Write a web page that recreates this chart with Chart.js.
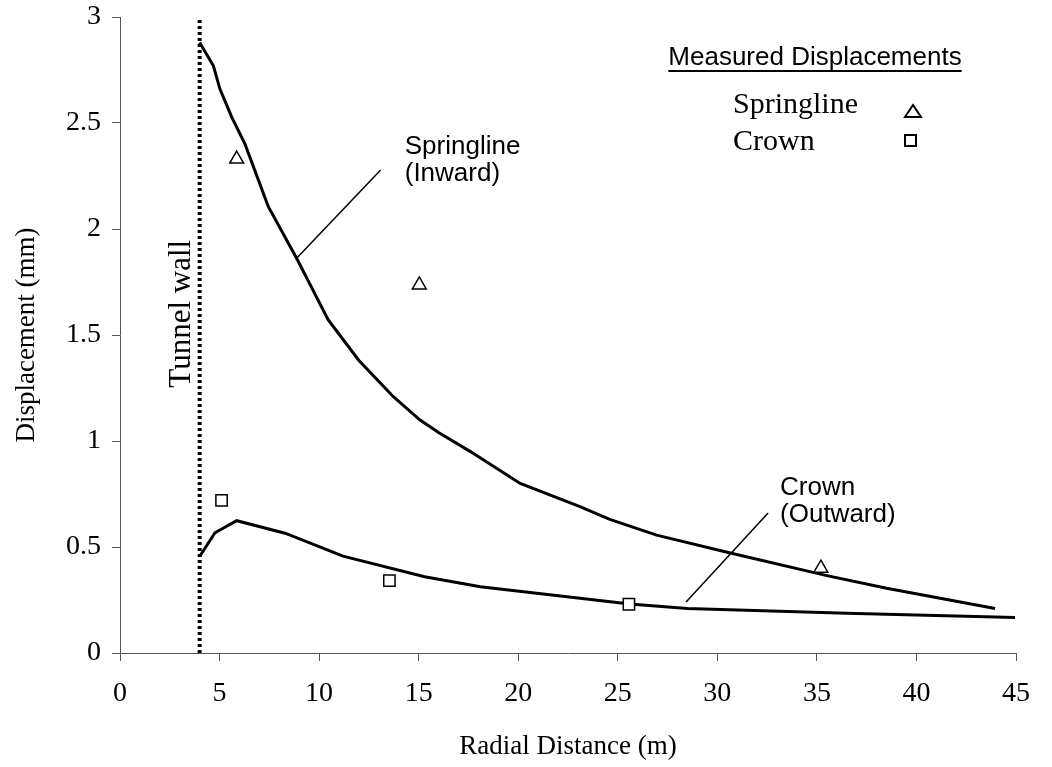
<!DOCTYPE html>
<html>
<head>
<meta charset="utf-8">
<script src="https://cdn.jsdelivr.net/npm/chart.js@4.4.1/dist/chart.umd.min.js"></script>
<style>
  html, body { margin: 0; padding: 0; background: #fff; }
</style>
</head>
<body>
<canvas id="chart" width="1052" height="767"></canvas>
<script>
// Computed displacement curves
const springX = [4, 4.69, 5.02, 5.6, 6.28, 7.45, 8.87, 10.46, 12, 13.73, 15.07, 16, 17.6, 20.1, 23.1, 24.6, 26.95, 30.6, 35.5, 38.5, 43.95];
const springY = [2.88, 2.77, 2.66, 2.53, 2.40, 2.105, 1.862, 1.571, 1.38, 1.209, 1.099, 1.04, 0.95, 0.80, 0.69, 0.63, 0.556, 0.473, 0.365, 0.305, 0.21];
const crownX = [4, 4.77, 5.86, 8.29, 11.2, 15.3, 18.1, 23.1, 25.6, 28.5, 36.5, 44.95];
const crownY = [0.455, 0.567, 0.624, 0.565, 0.457, 0.36, 0.313, 0.258, 0.231, 0.21, 0.187, 0.167];

// Measured displacements
const measSpringX = [5.86, 15.03, 35.2];
const measSpringY = [2.33, 1.736, 0.40];
const measCrownX = [5.1, 13.53, 25.56];
const measCrownY = [0.72, 0.341, 0.23];

// Tunnel wall
const wallX = [4, 4];
const wallY = [0, 3];

const xTicks = [0, 5, 10, 15, 20, 25, 30, 35, 40, 45];
const yTicks = [0, 0.5, 1, 1.5, 2, 2.5, 3];

const pts = (xs, ys) => xs.map((v, i) => ({ x: v, y: ys[i] }));

const SERIF = "'Liberation Serif', 'Times New Roman', serif";
const SANS = "'Liberation Sans', Arial, sans-serif";
const AXIS = '#555';

// Labels, leader lines and the legend box
const notes = {
  id: 'notes',
  afterDatasetsDraw(chart) {
    const { ctx, scales: { x, y } } = chart;
    ctx.save();
    ctx.fillStyle = '#000';
    ctx.strokeStyle = '#000';

    // leader lines
    ctx.lineWidth = 1.5;
    [[[8.87, 1.862], [13.09, 2.278]], [[28.43, 0.241], [32.55, 0.66]]].forEach(([a, b]) => {
      ctx.beginPath();
      ctx.moveTo(x.getPixelForValue(a[0]), y.getPixelForValue(a[1]));
      ctx.lineTo(x.getPixelForValue(b[0]), y.getPixelForValue(b[1]));
      ctx.stroke();
    });

    // curve labels
    ctx.font = '26px ' + SANS;
    ctx.textAlign = 'left';
    ctx.textBaseline = 'alphabetic';
    let px = x.getPixelForValue(14.3), py = y.getPixelForValue(2.354);
    ctx.fillText('Springline', px, py);
    ctx.fillText('(Inward)', px, py + 27);
    px = x.getPixelForValue(33.15); py = y.getPixelForValue(0.618);
    ctx.fillText('Crown', px, py - 27);
    ctx.fillText('(Outward)', px, py);

    // tunnel wall label
    ctx.save();
    ctx.translate(x.getPixelForValue(4) - 10, y.getPixelForValue(1.6));
    ctx.rotate(-Math.PI / 2);
    ctx.font = '31px ' + SERIF;
    ctx.textAlign = 'center';
    ctx.fillText('Tunnel wall', 0, 0);
    ctx.restore();

    // legend
    ctx.font = '26px ' + SANS;
    ctx.textAlign = 'center';
    ctx.fillText('Measured Displacements', 815, 65);
    const w = ctx.measureText('Measured Displacements').width;
    ctx.fillRect(815 - w / 2, 70, w, 2);

    ctx.font = '30px ' + SERIF;
    ctx.textAlign = 'left';
    ctx.fillText('Springline', 733, 113);
    ctx.fillText('Crown', 733, 150);

    ctx.lineWidth = 2;
    ctx.beginPath();
    ctx.moveTo(913, 105);
    ctx.lineTo(921, 117);
    ctx.lineTo(905, 117);
    ctx.closePath();
    ctx.stroke();
    ctx.strokeRect(905, 135, 11, 11);

    ctx.restore();
  }
};

new Chart(document.getElementById('chart'), {
  type: 'scatter',
  plugins: [notes],
  data: {
    datasets: [
      {
        label: 'Measured Springline',
        data: pts(measSpringX, measSpringY),
        pointStyle: 'triangle',
        pointRadius: 8,
        pointBorderWidth: 1.5,
        pointBackgroundColor: '#fff',
        pointBorderColor: '#000',
        showLine: false
      },
      {
        label: 'Measured Crown',
        data: pts(measCrownX, measCrownY),
        pointStyle: 'rect',
        pointRadius: 8,
        pointBorderWidth: 1.5,
        pointBackgroundColor: '#fff',
        pointBorderColor: '#000',
        showLine: false
      },
      {
        label: 'Springline (Inward)',
        data: pts(springX, springY),
        showLine: true,
        borderColor: '#000',
        borderWidth: 3,
        pointRadius: 0,
        tension: 0
      },
      {
        label: 'Crown (Outward)',
        data: pts(crownX, crownY),
        showLine: true,
        borderColor: '#000',
        borderWidth: 3,
        pointRadius: 0,
        tension: 0
      },
      {
        label: 'Tunnel wall',
        data: pts(wallX, wallY),
        showLine: true,
        borderColor: '#000',
        borderWidth: 4,
        borderDash: [3, 3],
        borderCapStyle: 'butt',
        pointRadius: 0
      }
    ]
  },
  options: {
    responsive: false,
    animation: false,
    layout: { padding: { top: 17, right: 36, left: 0, bottom: 0 } },
    plugins: {
      legend: { display: false },
      tooltip: { enabled: false }
    },
    scales: {
      x: {
        type: 'linear',
        min: 0,
        max: 45,
        afterFit(scale) { scale.height = 114; },
        afterBuildTicks(scale) { scale.ticks = xTicks.map(v => ({ value: v })); },
        ticks: {
          color: '#000',
          font: { family: SERIF, size: 28 },
          padding: 16,
          callback: v => String(v)
        },
        grid: { drawOnChartArea: false, drawTicks: true, tickLength: 8, color: AXIS },
        border: { color: AXIS, width: 1 },
        title: {
          display: true,
          text: 'Radial Distance (m)',
          color: '#000',
          font: { family: SERIF, size: 27 },
          padding: { top: 0, bottom: 4 }
        }
      },
      y: {
        type: 'linear',
        min: 0,
        max: 3,
        afterFit(scale) { scale.width = 120; },
        afterBuildTicks(scale) { scale.ticks = yTicks.map(v => ({ value: v })); },
        ticks: {
          color: '#000',
          font: { family: SERIF, size: 28, lineHeight: 0.4 },
          padding: 11,
          callback: v => String(v)
        },
        grid: { drawOnChartArea: false, drawTicks: true, tickLength: 8, color: AXIS },
        border: { color: AXIS, width: 1 },
        title: {
          display: true,
          text: 'Displacement (mm)',
          color: '#000',
          font: { family: SERIF, size: 27 },
          padding: { top: 11, bottom: 0 }
        }
      }
    }
  }
});
</script>
</body>
</html>
